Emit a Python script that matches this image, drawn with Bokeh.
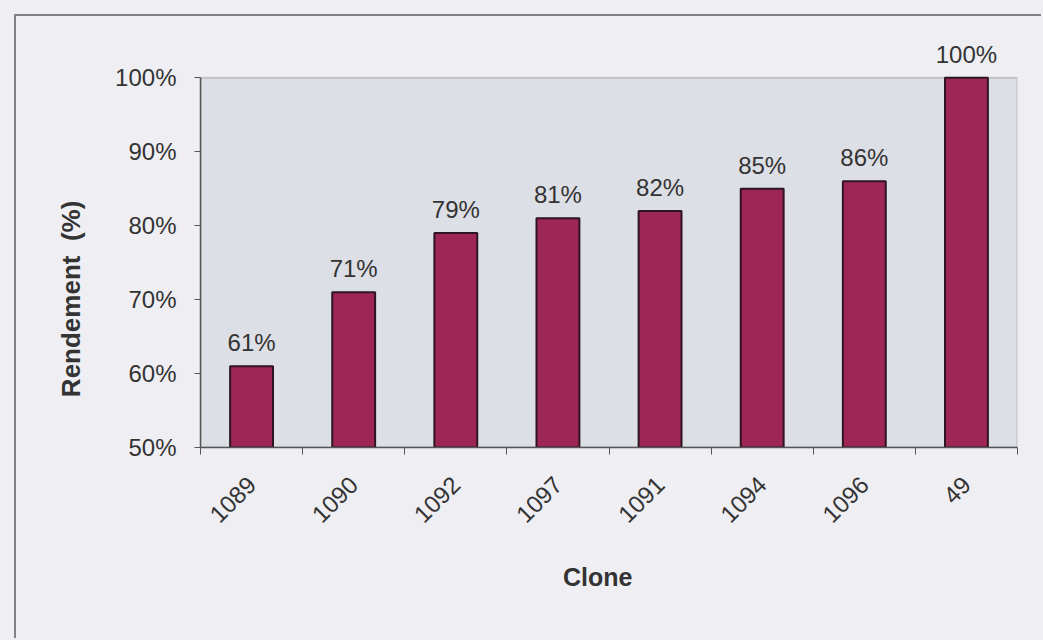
from math import pi

from bokeh.core.properties import value
from bokeh.embed import file_html
from bokeh.layouts import column
from bokeh.models import (BoxAnnotation, ColumnDataSource, FixedTicker, Label,
                          LabelSet, PrintfTickFormatter, Range1d)
from bokeh.plotting import figure
from bokeh.resources import INLINE

# Yield per clone (percent)
clones = ["1089", "1090", "1092", "1097", "1091", "1094", "1096", "49"]
rendement = [61, 71, 79, 81, 82, 85, 86, 100]
y_ticks = [50, 60, 70, 80, 90, 100]

FONT = "Liberation Sans"
TEXT = "#333333"
PAGE = "#efeff3"
Y_MIN, Y_MAX = 50, 100

idx = list(range(len(clones)))
src = ColumnDataSource(dict(
    x=idx,
    top=rendement,
    name=clones,
    label=[f"{v}%" for v in rendement],
))

# the y range runs a little past 100% so the value labels have room;
# the shaded plot area itself stops at 100%
p = figure(
    width=1027, height=624,
    x_range=Range1d(-0.5, len(clones) - 0.5),
    y_range=Range1d(Y_MIN, 106),
    output_backend="svg", toolbar_location=None,
    min_border_left=184, min_border_right=26,
    min_border_top=17, min_border_bottom=193,
)
p.border_fill_color = PAGE
p.background_fill_color = PAGE
p.outline_line_color = None
p.grid.visible = False
p.styles = {"border-left": "2px solid #808080", "border-top": "2px solid #808080"}

p.add_layout(BoxAnnotation(bottom=Y_MIN, top=Y_MAX, fill_color="#dddfe6",
                           fill_alpha=1, line_color="#6a6a6a", line_width=2,
                           level="underlay"))

p.vbar(x="x", top="top", bottom=Y_MIN, width=0.42, source=src,
       fill_color="#9d2656", line_color="#2e1520", line_width=2)

# value labels above the bars
p.add_layout(LabelSet(x="x", y="top", text="label", source=src,
                      text_align="center", text_baseline="alphabetic",
                      y_offset=15, text_font=value(FONT),
                      text_font_size="24px", text_color=TEXT))

# x axis: labels under each category, ticks between categories
xa = p.xaxis[0]
xa.ticker = FixedTicker(ticks=idx,
                        minor_ticks=[i - 0.5 for i in range(len(clones) + 1)])
xa.major_label_overrides = {i: c for i, c in enumerate(clones)}
xa.major_label_orientation = pi / 4
xa.major_tick_out = 0
xa.major_tick_in = 0
xa.minor_tick_out = 7
xa.minor_tick_in = 0
xa.minor_tick_line_color = "#555555"
xa.axis_line_color = "#555555"
xa.axis_line_width = 1.5
xa.major_label_standoff = 26
xa.major_label_text_font = FONT
xa.major_label_text_font_size = "24px"
xa.major_label_text_color = TEXT

# y axis in percent
ya = p.yaxis[0]
ya.bounds = (Y_MIN, Y_MAX)
ya.ticker = FixedTicker(ticks=y_ticks)
ya.formatter = PrintfTickFormatter(format="%d%%")
ya.major_tick_out = 6
ya.major_tick_in = 0
ya.minor_tick_out = 0
ya.minor_tick_in = 0
ya.major_tick_line_color = "#555555"
ya.axis_line_color = "#555555"
ya.axis_line_width = 1.5
ya.major_label_standoff = 18
ya.major_label_text_font = FONT
ya.major_label_text_font_size = "24px"
ya.major_label_text_color = TEXT

# axis titles
p.add_layout(Label(x=3.39, y=32.5, text="Clone", text_font=FONT,
                   text_font_size="25px", text_font_style="bold",
                   text_color=TEXT, text_align="center",
                   text_baseline="middle"), "below")
p.add_layout(Label(x=-1.77, y=70.1, text="Rendement\u00a0 (%)", angle=pi / 2,
                   text_font=FONT, text_font_size="26px",
                   text_font_style="bold", text_color=TEXT,
                   text_align="center", text_baseline="middle"), "left")

root = column(p, width=1043, height=640,
              styles={"background-color": PAGE,
                      "padding-left": "14px", "padding-top": "14px"})

open("out.html", "w").write(file_html(root, INLINE))
